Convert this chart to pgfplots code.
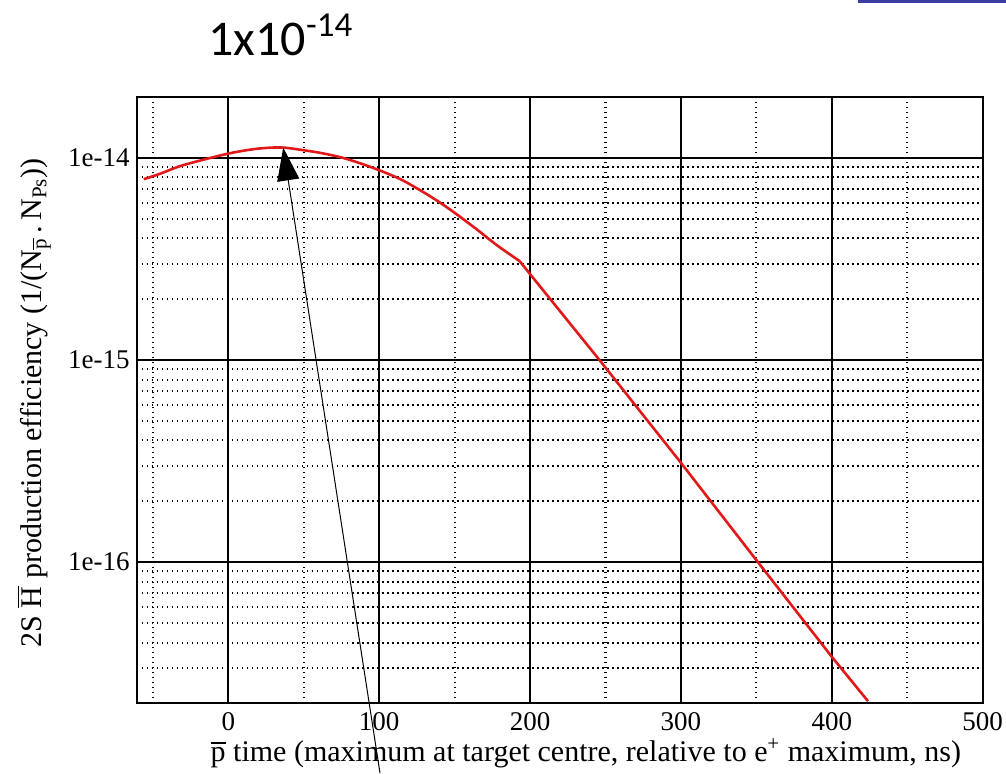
\documentclass[border=0pt]{standalone}
\usepackage{fontspec}
\setmainfont{Liberation Serif}
\newfontfamily\carlito{Carlito}
\usepackage{amsmath}
\usepackage{pgfplots}
\pgfplotsset{compat=1.18}
\usetikzlibrary{arrows.meta}
\definecolor{curvered}{RGB}{225,25,25}
\definecolor{topblue}{RGB}{60,60,165}
\begin{document}
\begin{tikzpicture}
\begin{axis}[
  scale only axis, width=423pt, height=303.15pt,
  ymode=log, xmin=-60.7, xmax=500, ymin=2e-17, ymax=2e-14,
  xtick={0,100,200,300,400,500}, xticklabels={0,100,200,300,400,500},
  minor xtick={-50,50,150,250,350,450},
  ytick={1e-16,1e-15,1e-14}, yticklabels={1e-16,1e-15,1e-14},
  minor ytick={2e-17,3e-17,4e-17,5e-17,6e-17,7e-17,8e-17,9e-17,
               2e-16,3e-16,4e-16,5e-16,6e-16,7e-16,8e-16,9e-16,
               2e-15,3e-15,4e-15,5e-15,6e-15,7e-15,8e-15,9e-15},
  grid=both,
  major grid style={black, line width=0.8pt},
  minor grid style={black, line width=1pt, dash pattern=on 0.9pt off 1.6pt},
  major tick length=0pt, minor tick length=0pt,
  axis line style={black, line width=1.1pt},
  tick label style={font=\fontsize{13.5}{15}\selectfont},
  xticklabel style={yshift=-1pt},
  xlabel={$\overline{\text{p}}$ time (maximum at target centre, relative to e\textsuperscript{+} maximum, ns)},
  xlabel style={at={(rel axis cs:0.531,-0.0952)}, anchor=base, font=\fontsize{15}{17}\selectfont},
  ylabel={2S $\overline{\text{H}}$ production efficiency (1/(N$_{\overline{\text{p}}}$\,.\,N$_{\text{Ps}}$))},
  ylabel style={at={(rel axis cs:-0.112,0.496)}, anchor=base, rotate=0, font=\fontsize{15}{17}\selectfont},
  clip=false,
]
\addplot[curvered, line width=1.3pt, smooth, tension=0.6] table {
x y
-56 7.85e-15
-45 8.36e-15
-32 9.10e-15
-15 9.86e-15
0 1.05e-14
12 1.091e-14
23 1.117e-14
36 1.125e-14
50 1.091e-14
63 1.052e-14
76 1.0e-14
88 9.37e-15
100 8.69e-15
114 7.85e-15
127 6.93e-15
139 6.10e-15
150 5.35e-15
164 4.47e-15
178 3.70e-15
193 3.09e-15
};
\addplot[curvered, line width=1.3pt] table {
x y
193 3.09e-15
246 1e-15
300 3.1e-16
351 1e-16
400 3.4e-17
424 2.05e-17
};
\draw[black, line width=0.5pt, -{Triangle[length=16.5pt, width=11pt]}]
  (rel axis cs:0.2876,-0.115) -- (axis cs:36.4,1.125e-14);
\fill[topblue] (rel axis cs:0.8526,1.155) rectangle (rel axis cs:1.0275,1.160);
\node[anchor=base west, inner sep=0pt, font=\carlito\fontsize{25}{29}\selectfont]
  at (rel axis cs:0.0843,1.0693) {1x10\textsuperscript{-14}};
\coordinate (bbsw) at (rel axis cs:-0.16158,-0.11496);
\coordinate (bbne) at (rel axis cs:1.02754,1.16000);
\end{axis}
\pgfresetboundingbox
\useasboundingbox (bbsw) rectangle (bbne);
\end{tikzpicture}
\end{document}
